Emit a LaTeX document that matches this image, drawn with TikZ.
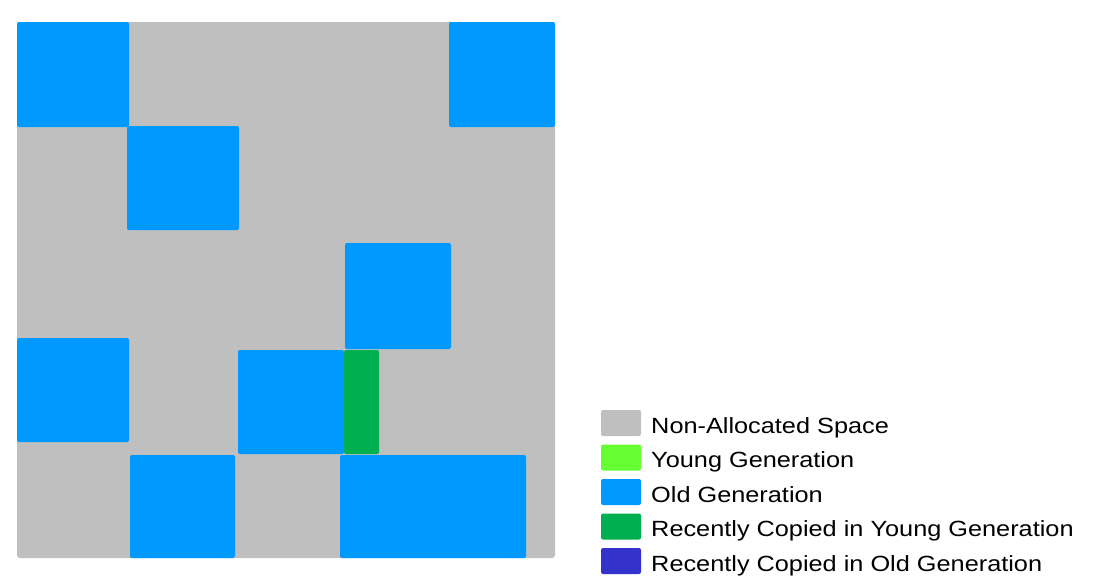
\documentclass[tikz,border=0pt]{standalone}
\usepackage{fontspec}
\setmainfont{Liberation Sans}
\definecolor{freegray}{HTML}{BFBFBF}
\definecolor{oldblue}{HTML}{0099FF}
\definecolor{younggreen}{HTML}{66FF33}
\definecolor{copygreen}{HTML}{00B050}
\definecolor{copyblue}{HTML}{3333CC}
\begin{document}
\begin{tikzpicture}[x=1pt,y=-1pt,
    region/.style={rounded corners=2pt},
    swatch/.style={rounded corners=2pt},
    legtext/.style={anchor=base west,inner sep=0pt,xscale=1.15,transform shape,font=\fontsize{22}{26}\selectfont}]
        \useasboundingbox(0,0)rectangle(1094,576);
        % heap
        \fill[freegray,rounded corners=3pt](17,22)rectangle(555,558);
        \fill[oldblue,region](17,22)rectangle(129,127);
        \fill[oldblue,region](449,22)rectangle(555,127);
        \fill[oldblue,region](127,126)rectangle(239,230);
        \fill[oldblue,region](345,243)rectangle(451,349);
        \fill[oldblue,region](17,338)rectangle(129,442);
        \fill[oldblue,region](238,350)rectangle(344,454);
        \fill[copygreen,region](344,350)rectangle(379,454);
        \fill[oldblue,region](130,455)rectangle(235,558);
        \fill[oldblue,region](340,455)rectangle(526,558);
        % legend
        \fill[freegray,swatch](601,410)rectangle(641,436);
        \fill[younggreen,swatch](601,444.5)rectangle(641,470.5);
        \fill[oldblue,swatch](601,479)rectangle(641,505);
        \fill[copygreen,swatch](601,513.5)rectangle(641,539.5);
        \fill[copyblue,swatch](601,548)rectangle(641,574);
        \node[legtext](lfree)at(651,433){Non-Allocated Space};
        \node[legtext](lyoung)at(651,467.5){Young Generation};
        \node[legtext](lold)at(651,502){Old Generation};
        \node[legtext](lcopyy)at(651,536.5){Recently Copied in Young Generation};
        \node[legtext](lcopyo)at(651,571){Recently Copied in Old Generation};
    \end{tikzpicture}
\end{document}
